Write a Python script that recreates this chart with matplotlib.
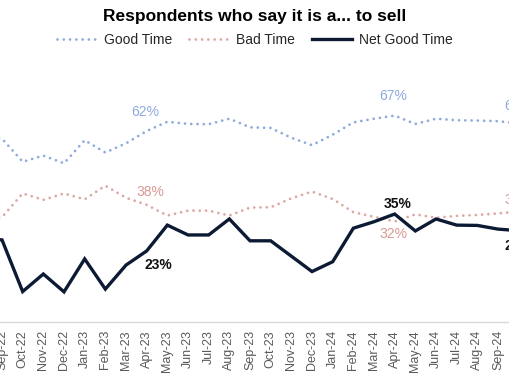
import matplotlib
matplotlib.use("Agg")
import matplotlib.pyplot as plt

plt.rcParams['font.family'] = ['Liberation Sans', 'DejaVu Sans']

months = ["Aug-22", "Sep-22", "Oct-22", "Nov-22", "Dec-22", "Jan-23", "Feb-23", "Mar-23",
          "Apr-23", "May-23", "Jun-23", "Jul-23", "Aug-23", "Sep-23", "Oct-23", "Nov-23",
          "Dec-23", "Jan-24", "Feb-24", "Mar-24", "Apr-24", "May-24", "Jun-24", "Jul-24",
          "Aug-24", "Sep-24", "Oct-24"]
good_time = [61, 59.5, 52, 54, 51.5, 59, 55, 58, 62, 65, 64.3, 64.2, 66, 63.2, 63, 59.8,
             57.4, 60.8, 64.8, 66, 67, 64.3, 66, 65.5, 65.4, 65.2, 64.4]
bad_time = [33, 34, 41.7, 39.6, 41.7, 39.8, 44.2, 40.3, 38, 34.5, 36.1, 36.1, 34.5, 37.1,
            37.2, 40.1, 42.3, 39.9, 35.6, 34.1, 32.6, 34.9, 33.8, 34.4, 34.7, 35.2, 35.8]
net_good = [27, 26.6, 9.8, 15.5, 9.7, 20.4, 10.6, 18.4, 23, 31.4, 28.2, 28.2, 33.4, 26.3,
            26.3, 21.3, 16.3, 19.5, 30.4, 32.5, 35, 29.5, 33.4, 31.4, 31.3, 30.1, 29.6]

# labels: (month, text, dx px, dy px)
good_labels = [("Apr-23", "62%", -1, 19), ("Apr-24", "67%", -1, 20), ("Oct-24", "64%", 0, 18)]
bad_labels = [("Apr-23", "38%", 4, 13), ("Apr-24", "32%", -1, -13), ("Oct-24", "36%", 0, 12)]
net_labels = [("Apr-23", "23%", 12, -14), ("Apr-24", "35%", 3, 10), ("Oct-24", "29%", 0, -15)]

GOOD_C = "#8FAADC"
BAD_C = "#DBA8A3"
BAD_TXT = "#D99A94"
NET_C = "#0C1A33"

fig = plt.figure(figsize=(5.10, 3.82), dpi=100)
ax = fig.add_axes([0, 0.1579, 1, 0.6843])

x = list(range(-1, len(months) - 1))  # Sep-22 -> 0

ax.plot(x, good_time, color=GOOD_C, lw=2.0, linestyle=(0, (0.01, 2.25)),
        dash_capstyle='round', label="Good Time")
ax.plot(x, bad_time, color=BAD_C, lw=2.0, linestyle=(0, (0.01, 2.25)),
        dash_capstyle='round', label="Bad Time")
ax.plot(x, net_good, color=NET_C, lw=2.4, solid_joinstyle='miter',
        label="Net Good Time")

def put_labels(lbls, series, color, weight):
    for m, txt, dx, dy in lbls:
        i = months.index(m)
        ax.annotate(txt, (x[i], series[i]), xytext=(dx, dy), textcoords='offset pixels',
                    ha='center', va='center', fontsize=10, color=color,
                    fontweight=weight, annotation_clip=False)

put_labels(good_labels, good_time, GOOD_C, 'normal')
put_labels(bad_labels, bad_time, BAD_TXT, 'normal')
put_labels(net_labels, net_good, "#111111", 'bold')

ax.set_xticks(x)
ax.set_xticklabels(months, rotation=90, fontsize=9, color="#595959")
ax.set_xlim(-0.097, 24.58)
ax.set_ylim(0, 85)
ax.tick_params(axis='x', length=0, pad=6)
ax.set_yticks([])
for s in ['top', 'left', 'right']:
    ax.spines[s].set_visible(False)
ax.spines['bottom'].set_color("#D9D9D9")
ax.spines['bottom'].set_linewidth(1.0)

fig.text(0.5, 1 - 17 / 382, "Respondents who say it is a... to sell", ha='center', va='center',
         fontsize=12.5, fontweight='bold', color="#000000")
fig.legend(loc='center', bbox_to_anchor=(0.5, 1 - 40 / 382), ncol=3, frameon=False,
           fontsize=10, handlelength=2.9, handletextpad=0.5, columnspacing=1.2,
           labelcolor="#262626")

fig.savefig("out.png", dpi=100)
